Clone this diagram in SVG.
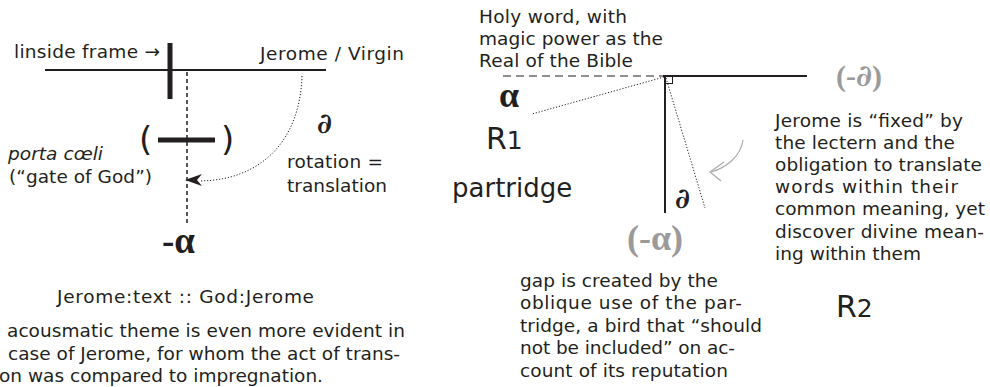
<svg xmlns="http://www.w3.org/2000/svg" width="990" height="387" viewBox="0 0 990 387">
<style>
.t{font-family:"DejaVu Sans",Verdana,sans-serif;font-size:18.5px;fill:#231f20}
.g{font-family:"Liberation Serif","DejaVu Serif",serif;font-weight:bold;fill:#231f20}
.d{font-family:"DejaVu Serif",serif;font-weight:bold;font-style:italic;fill:#231f20}
.gr{fill:#9a9a9a}
.ln{stroke:#231f20;fill:none}
.dot{stroke:#231f20;fill:none;stroke-width:1;stroke-dasharray:1.2 1.8}
</style>
<rect width="990" height="387" fill="#fff"/>
<g id="connectors">
<line class="ln" x1="45" y1="70" x2="326" y2="70" stroke-width="2"/>
<line class="ln" x1="170" y1="43" x2="170" y2="99" stroke-width="5"/>
<line class="ln" x1="187" y1="72" x2="187" y2="223" stroke-width="1.5" stroke-dasharray="4 3"/>
<line class="ln" x1="158" y1="140" x2="215" y2="140" stroke-width="5"/>
<path class="dot" d="M302,76 C300,140 262,180 200,181"/>
<path d="M185,180 L202,174 L197,180 L202,186 Z" fill="#231f20"/>
<line class="ln" x1="503" y1="76" x2="663" y2="76" stroke-width="1.2" stroke-dasharray="8 5"/>
<line class="ln" x1="663" y1="76" x2="807" y2="76" stroke-width="2"/>
<line class="ln" x1="665" y1="76" x2="665" y2="213" stroke-width="2"/>
<rect class="ln" x="665.5" y="76.5" width="7" height="7" stroke-width="1"/>
<line class="dot" x1="664" y1="77" x2="532" y2="114"/>
<line class="dot" x1="666" y1="78" x2="705" y2="208"/>
<path d="M743,140 C741,156 726,168 711,172" fill="none" stroke="#aaa" stroke-width="1.2"/>
<path d="M724,162 L710,172 L721,181" fill="none" stroke="#aaa" stroke-width="1.2"/>
</g>
<g id="left-frame">
<text class="t" x="14" y="58" textLength="146">linside frame →</text>
<text class="t" x="260" y="60" textLength="144">Jerome / Virgin</text>
</g>
<g id="porta">
<text class="t" x="139" y="151" style="font-size:34px">(</text>
<text class="t" x="221" y="151" style="font-size:34px">)</text>
<text class="t" x="8" y="160" font-style="italic" textLength="95">porta cœli</text>
<text class="t" x="9" y="183" textLength="143">(“gate of God”)</text>
</g>
<g id="rotation">
<text class="d" x="317" y="133" font-size="28">∂</text>
<text class="t" x="287" y="168" textLength="96">rotation =</text>
<text class="t" x="287" y="192" textLength="100">translation</text>
</g>
<g id="minus-alpha">
<text class="g" x="162" y="253" font-size="37">-α</text>
</g>
<g id="left-caption">
<text class="t" x="57" y="303" textLength="257">Jerome:text :: God:Jerome</text>
<text class="t" x="7" y="337" textLength="398">acousmatic theme is even more evident in</text>
<text class="t" x="8" y="360" textLength="392">case of Jerome, for whom the act of trans-</text>
<text class="t" x="-1" y="382" textLength="324">on was compared to impregnation.</text>
</g>
<g id="holy-word">
<text class="t" x="479" y="23" textLength="148">Holy word, with</text>
<text class="t" x="479" y="45" textLength="184">magic power as the</text>
<text class="t" x="479" y="67" textLength="154">Real of the Bible</text>
</g>
<g id="alpha-r1">
<text class="g" x="499" y="107" font-size="36">α</text>
<text class="t" x="486" y="149" style="font-size:30px">R<tspan style="font-size:25px">1</tspan></text>
<text class="t" x="452" y="197" style="font-size:26px">partridge</text>
</g>
<g id="partial">
<text class="d" x="675" y="208" font-size="28">∂</text>
<text class="g gr" x="836" y="86" font-size="30">(-<tspan class="d gr">∂</tspan>)</text>
<text class="g gr" x="627" y="250" font-size="36">(-α)</text>
</g>
<g id="gap-text">
<text class="t" x="520" y="287" textLength="198">gap is created by the</text>
<text class="t" x="520" y="309" textLength="222">oblique use of the par-</text>
<text class="t" x="520" y="332" textLength="242">tridge, a bird that “should</text>
<text class="t" x="520" y="354" textLength="215">not be included” on ac-</text>
<text class="t" x="520" y="377" textLength="208">count of its reputation</text>
</g>
<g id="jerome-fixed">
<text class="t" x="775" y="127" textLength="188">Jerome is “fixed” by</text>
<text class="t" x="775" y="149" textLength="180">the lectern and the</text>
<text class="t" x="775" y="171" textLength="207">obligation to translate</text>
<text class="t" x="775" y="193" textLength="183">words within their</text>
<text class="t" x="775" y="215" textLength="210">common meaning, yet</text>
<text class="t" x="775" y="238" textLength="209">discover divine mean-</text>
<text class="t" x="775" y="260" textLength="146">ing within them</text>
</g>
<g id="r2">
<text class="t" x="836" y="317" style="font-size:30px">R<tspan style="font-size:25px">2</tspan></text>
</g>
</svg>
